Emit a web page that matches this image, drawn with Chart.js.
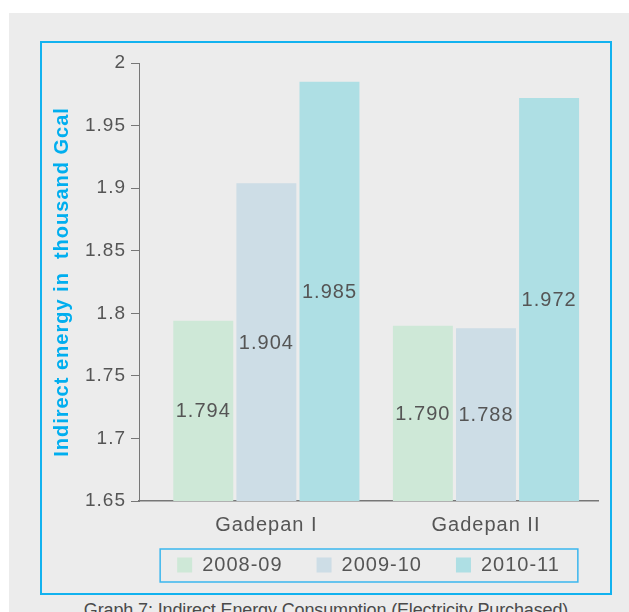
<!DOCTYPE html>
<html>
<head>
<meta charset="utf-8">
<script src="https://cdn.jsdelivr.net/npm/chart.js@4.4.1/dist/chart.umd.min.js"></script>
<style>
  html, body { margin: 0; padding: 0; background: #ffffff; }
  body { width: 629px; height: 612px; position: relative; overflow: hidden; }
  #panel { position: absolute; left: 9px; top: 13px; right: 0; bottom: 0; background: #ececec; }
  #frame { position: absolute; left: 40px; top: 41px; width: 568px; height: 550px; border: 2px solid #12b2ef; }
  #caption { position: absolute; left: 40px; width: 572px; top: 601px; text-align: center;
             font: 18px/18px "Liberation Sans", Arial, sans-serif; letter-spacing: -0.13px; color: #4a4a4a; white-space: nowrap; }
  #chart { position: absolute; left: 0; top: 0; }
</style>
</head>
<body>
<div id="panel"></div>
<div id="frame"></div>
<div id="caption">Graph 7: Indirect Energy Consumption (Electricity Purchased)</div>
<canvas id="chart" width="629" height="612"></canvas>
<script>
// Plants and financial years
const categories = ['Gadepan I', 'Gadepan II'];
const seriesLabels = ['2008-09', '2009-10', '2010-11'];

// Indirect energy (thousand Gcal) per plant
const values2008 = [1.794, 1.790];
const values2009 = [1.904, 1.788];
const values2010 = [1.985, 1.972];

// Value axis ticks
const yTickMin = 1.65;
const yTickMax = 2;
const yTickStep = 0.05;

const seriesValues = [values2008, values2009, values2010];
const seriesColors = ['#cee8d7', '#cddde6', '#aedfe4'];

const FONT = '"Liberation Sans", Arial, sans-serif';
const TEXT = '#555555';
const AXIS = '#777777';
const TRACKING = '1px';

// Slightly tracked text throughout the chart
const tracking = {
  id: 'tracking',
  beforeLayout(chart) { chart.ctx.letterSpacing = TRACKING; },
  beforeDraw(chart) { chart.ctx.letterSpacing = TRACKING; }
};

// Legend sits a little closer to the category labels
const legendLift = {
  id: 'legendLift',
  afterLayout(chart) {
    const lg = chart.legend;
    lg.top -= 16;
    lg.bottom -= 16;
  }
};

// Value printed in the middle of the visible part of each bar
const barValues = {
  id: 'barValues',
  afterDatasetsDraw(chart) {
    const ctx = chart.ctx;
    const bottom = chart.chartArea.bottom;
    ctx.save();
    ctx.letterSpacing = TRACKING;
    ctx.font = '20px ' + FONT;
    ctx.fillStyle = TEXT;
    ctx.textAlign = 'center';
    ctx.textBaseline = 'middle';
    chart.data.datasets.forEach((ds, di) => {
      const meta = chart.getDatasetMeta(di);
      meta.data.forEach((bar, i) => {
        const v = ds.data[i].y;
        ctx.fillText(v.toFixed(3), bar.x, (bar.y + Math.min(bar.base, bottom)) / 2 + 1);
      });
    });
    ctx.restore();
  }
};

// Thin outline round the legend entries
const legendFrame = {
  id: 'legendFrame',
  afterDraw(chart) {
    const boxes = chart.legend.legendHitBoxes;
    if (!boxes || !boxes.length) return;
    const first = boxes[0], last = boxes[boxes.length - 1];
    const left = first.left - 17;
    const right = last.left + last.width + 18;
    const cy = first.top + first.height / 2;
    const ctx = chart.ctx;
    ctx.save();
    ctx.strokeStyle = '#3ab6ee';
    ctx.lineWidth = 1.5;
    ctx.strokeRect(left, cy - 16, right - left, 33);
    ctx.restore();
  }
};

const datasets = seriesLabels.map((label, s) => ({
  label,
  data: seriesValues[s].map((v, i) => ({ x: i + 1, y: v })),
  backgroundColor: seriesColors[s],
  borderWidth: 0,
  categoryPercentage: 0.862,
  barPercentage: 0.95
}));

new Chart(document.getElementById('chart'), {
  type: 'bar',
  data: { datasets },
  plugins: [tracking, legendLift, barValues, legendFrame],
  options: {
    responsive: false,
    animation: false,
    layout: { padding: { left: 40, right: 31, top: 63, bottom: 11 } },
    plugins: {
      tooltip: { enabled: false },
      legend: {
        position: 'bottom',
        fullSize: false,
        labels: { boxWidth: 15, boxHeight: 15, padding: 34, color: TEXT, font: { family: FONT, size: 20 } }
      }
    },
    scales: {
      x: {
        type: 'linear',
        offset: false,
        bounds: 'data',
        min: 0.42,
        max: 2.51,
        afterBuildTicks(axis) { axis.ticks = categories.map((c, i) => ({ value: i + 1 })); },
        afterFit(axis) { axis.height = 36; },
        grid: { display: false, drawTicks: false },
        border: { display: true, color: AXIS, width: 1.5 },
        ticks: { autoSkip: false, maxRotation: 0, padding: 12, color: TEXT, font: { family: FONT, size: 20 },
          callback: (v) => categories[Math.round(v) - 1] }
      },
      y: {
        min: yTickMin,
        max: yTickMax,
        afterFit(axis) { axis.width = 99; },
        grid: { drawOnChartArea: false, drawTicks: true, tickLength: 8, color: AXIS, lineWidth: 1 },
        border: { display: true, color: AXIS, width: 1 },
        ticks: { stepSize: yTickStep, padding: 5, color: TEXT, font: { family: FONT, size: 19 },
          callback: (v) => String(+Number(v).toFixed(2)) },
        title: { display: true, text: 'Indirect energy in  thousand Gcal', color: '#00aeef',
          font: { family: FONT, size: 20, weight: 'bold' }, padding: { top: 10, bottom: 0 } }
      }
    }
  }
});
</script>
</body>
</html>
